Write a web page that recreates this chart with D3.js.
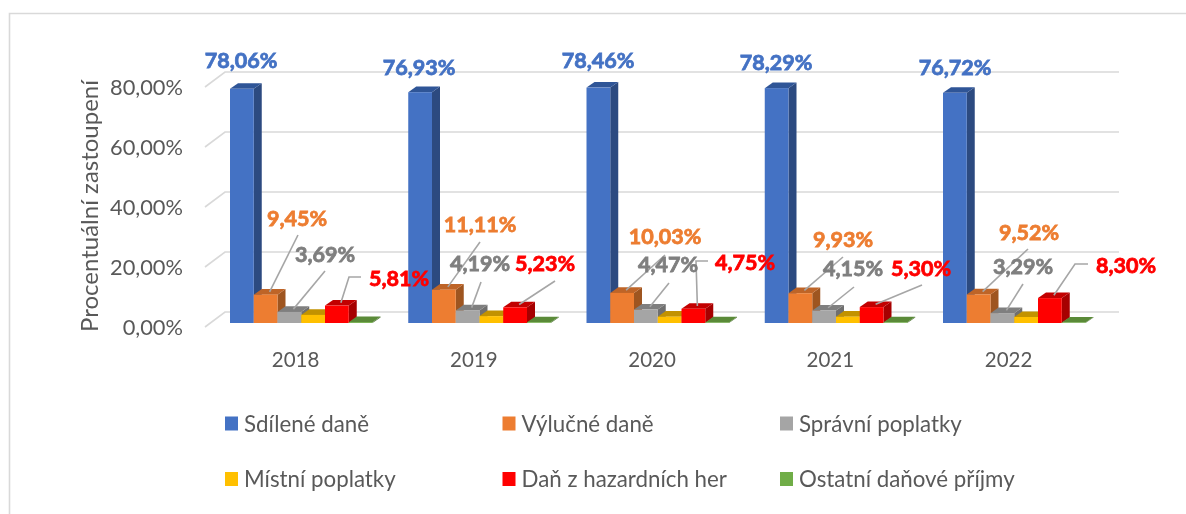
<!DOCTYPE html>
<html><head><meta charset="utf-8">
<script src="https://cdn.jsdelivr.net/npm/d3@7/dist/d3.min.js"></script>
<style>html,body{margin:0;padding:0;background:#fff}svg{display:block;filter:blur(.55px)}text{font-family:Lato,"Noto Sans",sans-serif}</style>
</head><body><svg id="c" width="1186" height="514"></svg>
<script>
const years = ["2018","2019","2020","2021","2022"];
const seriesNames = ["Sdílené daně","Výlučné daně","Správní poplatky","Místní poplatky","Daň z hazardních her","Ostatní daňové příjmy"];
const sdileneDane = [78.06,76.93,78.46,78.29,76.72];
const vylucneDane = [9.45,11.11,10.03,9.93,9.52];
const spravniPoplatky = [3.69,4.19,4.47,4.15,3.29];
const mistniPoplatky = [2.7,2.3,2.1,2.1,2.0];
const danHazard = [5.81,5.23,4.75,5.30,8.30];
const ostatniPrijmy = [0.29,0.24,0.19,0.23,0.17];
const tickValues = [0,20,40,60,80];
const seriesValues = [sdileneDane,vylucneDane,spravniPoplatky,mistniPoplatky,danHazard,ostatniPrijmy];

// styles
const front = ["#4472C4","#ED7D31","#A5A5A5","#FFC000","#FF0000","#70AD47"];
const side  = ["#2C4A80","#9E5520","#6F6F6F","#A67C00","#A60000","#4A7030"];
const top_  = ["#2F5597","#BE6427","#7F7F7F","#C29200","#C20000","#5A8A38"];
const labelColor = {0:"#4472C4",1:"#ED7D31",2:"#7F7F7F",4:"#FF0000"};
// hand-placed annotation layout, one row per year: [label centre x, y, leader points...]
const labelLayout = [
 {0:[241,60], 1:[297,218,[[298,235]]], 2:[325,254,[[325,271]]], 4:[399,278,[[349,277],[361,277]]]},
 {0:[419,67], 1:[480,224,[[480,242]]], 2:[480,263,[[481,282]]], 4:[545,263,[[555,281]]]},
 {0:[598,60], 1:[665,236,[[665,255]]], 2:[668,264,[[669,283]]], 4:[745,262,[[696,261],[708,261]]]},
 {0:[776,62], 1:[843,239,[[843,257]]], 2:[853,268,[[854,287]]], 4:[921,268,[[922,285]]]},
 {0:[955,67], 1:[1029,232,[[1028,249]]], 2:[1023,266,[[1023,284]]], 4:[1126,265,[[1075,264],[1088,264]]]}
];

const svg = d3.select("#c");
const fmt = v => d3.format(".2f")(v).replace(".",",");
const wall = {dx:20, dy:-15};         // floor depth of the plot
const barDepth = {dx:8, dy:-5.6};     // depth of one bar
const barOff = {dx:5.5, dy:-4};       // bar front relative to the front of the floor
const W0 = 205, Wn = 1096.25, gridEnd = 1119;

const x = d3.scaleBand().domain(years).range([W0,Wn]).paddingInner(0).paddingOuter(0);
const inner = d3.scaleBand().domain(d3.range(6)).range([0,142.5]);
const groupPad = 19.5;
const y = d3.scaleLinear().domain([0,80]).range([327,87]);

// frame
svg.append("path").attr("d","M1186,13.5H9.5V514").attr("fill","none").attr("stroke","#D9D9D9").attr("stroke-width",1.6);

// gridlines and wall
const grid = svg.append("g").attr("fill","none").attr("stroke","#D9D9D9").attr("stroke-width",1.6);
grid.selectAll("path").data(tickValues).join("path")
  .attr("d",v=>`M${W0},${y(v)}L${W0+wall.dx},${y(v)+wall.dy}H${gridEnd}`);

// axes
const ya = svg.append("g").attr("transform","translate(187,1)")
  .call(d3.axisLeft(y).tickValues(tickValues).tickSize(0).tickPadding(4).tickFormat(v=>fmt(v)+"%"));
ya.select(".domain").remove();
ya.selectAll("text").attr("font-size",21.8).attr("fill","#595959").style("font-family","Lato");
const xa = svg.append("g").attr("transform","translate(1.5,341)")
  .call(d3.axisBottom(x).tickSize(0).tickPadding(11));
xa.select(".domain").remove();
xa.selectAll("text").attr("font-size",20.5).attr("fill","#595959").style("font-family","Lato");
svg.append("text").attr("transform","translate(88,206) rotate(-90)").attr("text-anchor","middle")
  .attr("dominant-baseline","central").attr("font-size",24).attr("fill","#595959").text("Procentuální zastoupení");

// bars
const cells = [];
years.forEach((yr,i)=>seriesValues.forEach((vals,s)=>cells.push({yr,i,s,v:vals[i]})));
const bx = d => x(d.yr)+groupPad+inner(d.s)+barOff.dx;
const by = d => y(d.v)+barOff.dy;
const by0 = y(0)+barOff.dy;
const bw = inner.bandwidth();
const bars = svg.append("g").selectAll("g").data(cells).join("g");
bars.append("path").attr("fill",d=>side[d.s]).attr("d",d=>{
  const a=bx(d)+bw,b=by(d);
  return `M${a},${b}l${barDepth.dx},${barDepth.dy}V${by0+barDepth.dy}L${a},${by0}Z`;});
bars.append("path").attr("fill",d=>top_[d.s]).attr("d",d=>{
  const a=bx(d),b=by(d);
  return `M${a},${b}l${barDepth.dx},${barDepth.dy}h${bw}l${-barDepth.dx},${-barDepth.dy}Z`;});
bars.append("rect").attr("fill",d=>front[d.s]).attr("x",bx).attr("y",by).attr("width",bw).attr("height",d=>by0-by(d));

// labels and leaders
const labelCells = cells.filter(d=>labelColor[d.s]);
const line = d3.line();
svg.append("g").attr("fill","none").attr("stroke","#A6A6A6").attr("stroke-width",1.6)
 .selectAll("path").data(labelCells.filter(d=>d.s>0)).join("path").attr("d",d=>{
   const a=[bx(d)+bw/2+barDepth.dx/2, by(d)+barDepth.dy/2];
   return line([a,...labelLayout[d.i][d.s][2]]);});
svg.append("g").selectAll("text").data(labelCells).join("text")
  .attr("x",d=>labelLayout[d.i][d.s][0]).attr("y",d=>labelLayout[d.i][d.s][1])
  .attr("text-anchor","middle").attr("dominant-baseline","central")
  .attr("font-size",21.5).attr("font-weight",700).attr("fill",d=>labelColor[d.s])
  .attr("stroke",d=>labelColor[d.s]).attr("stroke-width",.8)
  .text(d=>fmt(d.v)+"%");

// legend
const legX = d3.scalePoint().domain([0,1,2]).range([225,780]);
const legY = d3.scalePoint().domain([0,1]).range([423.5,479]);
const leg = svg.append("g").selectAll("g").data(seriesNames).join("g")
  .attr("transform",(d,i)=>`translate(${legX(i%3)},${legY(Math.floor(i/3))})`);
leg.append("rect").attr("y",-7).attr("width",13).attr("height",14).attr("fill",(d,i)=>front[i]);
leg.append("text").attr("x",19).attr("y",-0.5).attr("dominant-baseline","central").attr("font-size",22.3).attr("fill","#595959").text(d=>d);
</script></body></html>
